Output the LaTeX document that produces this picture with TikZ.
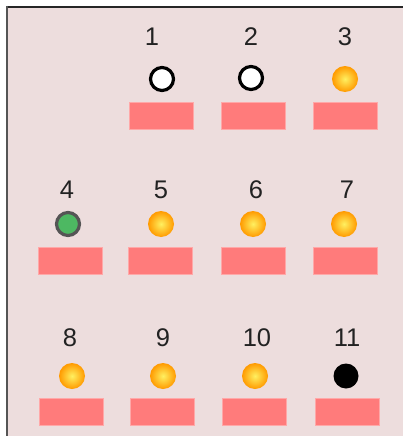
\documentclass[tikz,border=0pt]{standalone}
\usepackage{fontspec}
\setmainfont{Liberation Sans}
\definecolor{bgpink}{HTML}{EDDDDD}
\definecolor{boxfill}{HTML}{FF7B7B}
\definecolor{boxedge}{HTML}{FFA8A8}
\definecolor{labelc}{HTML}{222222}
\definecolor{ballin}{HTML}{FFF060}
\definecolor{ballout}{HTML}{FF9A00}
\definecolor{greenb}{HTML}{4DB862}
\definecolor{greyedge}{HTML}{555555}
\begin{document}
\begin{tikzpicture}[x=1pt,y=-1pt,
  slot/.style={draw=boxedge,line width=0.8pt,fill=boxfill,minimum width=64pt,minimum height=27pt,inner sep=0pt},
  lbl/.style={text=labelc,font=\fontsize{25.5}{25.5}\selectfont,inner sep=0pt,anchor=center},
  orangeball/.style={circle,minimum size=26pt,inner sep=0pt,inner color=ballin,outer color=ballout},
  whiteball/.style={circle,minimum size=23pt,inner sep=0pt,fill=white,draw=black,line width=3.2pt},
  greenball/.style={circle,minimum size=23pt,inner sep=0pt,fill=greenb,draw=greyedge,line width=3.2pt},
  blackball/.style={circle,minimum size=25pt,inner sep=0pt,fill=black}]
\useasboundingbox (0,0) rectangle (403,436);
\fill[white] (0,0) rectangle (403,436);
\fill[bgpink] (7,7) rectangle (403,436);
\draw[black!85,line width=2pt] (6,7) -- (403,7);
\draw[greyedge,line width=2pt] (7,6) -- (7,436);
% row 1
\node[lbl] (l1) at (152,37) {1};
\node[lbl] (l2) at (251,37) {2};
\node[lbl] (l3) at (345,37) {3};
\node[whiteball] (b1) at (162,79) {};
\node[whiteball] (b2) at (251,78) {};
\node[orangeball] (b3) at (345,79) {};
\node[slot] (r1) at (161.5,116) {};
\node[slot] (r2) at (253,116) {};
\node[slot] (r3) at (345,116) {};
% row 2
\node[lbl] (l4) at (67,190) {4};
\node[lbl] (l5) at (161,190) {5};
\node[lbl] (l6) at (256,190) {6};
\node[lbl] (l7) at (347,190) {7};
\node[greenball] (b4) at (68,224) {};
\node[orangeball] (b5) at (161,224) {};
\node[orangeball] (b6) at (253,224) {};
\node[orangeball] (b7) at (344,224) {};
\node[slot] (r4) at (70,260.5) {};
\node[slot] (r5) at (160,260.5) {};
\node[slot] (r6) at (253,260.5) {};
\node[slot] (r7) at (345,260.5) {};
% row 3
\node[lbl] (l8) at (70,338) {8};
\node[lbl] (l9) at (163,338) {9};
\node[lbl] (l10) at (257,338) {10};
\node[lbl] (l11) at (347,338) {11};
\node[orangeball] (b8) at (72,376) {};
\node[orangeball] (b9) at (163,376) {};
\node[orangeball] (b10) at (255,376) {};
\node[blackball] (b11) at (346,376) {};
\node[slot] (r8) at (71.5,412) {};
\node[slot] (r9) at (162,412) {};
\node[slot] (r10) at (254,412) {};
\node[slot] (r11) at (347,412) {};
\end{tikzpicture}
\end{document}
